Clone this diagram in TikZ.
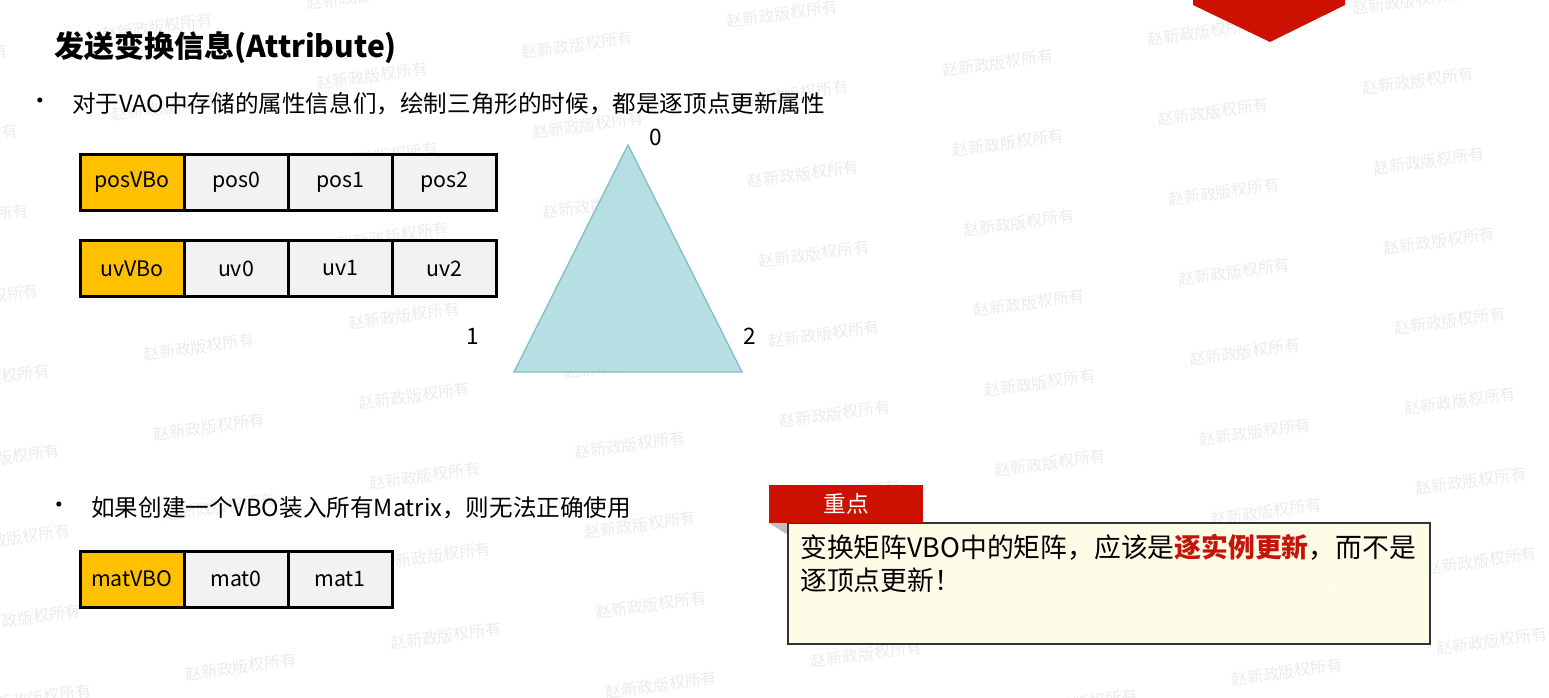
\documentclass[tikz,border=0pt]{standalone}
\usepackage{fontspec}
\setmainfont{Noto Sans CJK SC}
\usetikzlibrary{positioning}

\definecolor{vboyellow}{HTML}{FFC000}
\definecolor{cellgray}{HTML}{F2F2F2}
\definecolor{trifill}{HTML}{B7DEE3}
\definecolor{triline}{HTML}{7FBFC6}
\definecolor{keyred}{HTML}{CC1100}
\definecolor{emphred}{HTML}{C5140A}
\definecolor{notefill}{HTML}{FEFCE5}

\begin{document}
\begin{tikzpicture}[x=0.75pt, y=-0.75pt]
	\tikzstyle{cell} = [ draw, rectangle, line width=2.25pt, minimum width=78pt, minimum height=42pt, node distance=78pt, fill=cellgray, font={\fontsize{16}{18}\selectfont} ];
	\tikzstyle{head} = [ cell, fill=vboyellow ];
	\tikzstyle{title} = [ inner sep=0pt, font={\fontsize{22.5}{26}\selectfont\bfseries} ];
	\tikzstyle{bullet} = [ inner sep=0pt, font={\fontsize{17.7}{22}\selectfont} ];
	\tikzstyle{num} = [ inner sep=0pt, font={\fontsize{17}{20}\selectfont} ];
	\tikzstyle{tri} = [ fill=trifill, draw=triline, line width=1pt ];
	\tikzstyle{tab} = [ fill=keyred, text=white, minimum width=115.5pt, minimum height=28.5pt, inner sep=0pt, font={\fontsize{17}{20}\selectfont} ];
	\tikzstyle{notebox} = [ fill=notefill, fill opacity=0.92, draw=black!80, draw opacity=1, line width=1.1pt ];
	\tikzstyle{msg} = [ inner sep=0pt, align=left, font={\fontsize{20.1}{24.75}\selectfont} ];
	\tikzstyle{stamp} = [ rotate=8, text=black!8, font={\fontsize{12}{14}\selectfont} ];

	\useasboundingbox (0,0) rectangle (1549,697);

	\foreach \i in {-5,...,4} {
		\foreach \j in {-7,...,5} {
			\pgfmathsetmacro \wx {835+205*\i+10.5*\j}
			\pgfmathsetmacro \wy {414-31*\i+80*\j}
			\node[stamp] (wm\i\j) at (\wx,\wy) {赵新政版权所有};
		}
	}

	\fill[keyred] (1193,-2) -- (1345,-2) -- (1345,5) -- (1270,42) -- (1193,5) -- cycle;

	\node[title, anchor=west] (title) at (54,48) {发送变换信息(Attribute)};
	\node[bullet] (b1) at (40,104) {•};
	\node[bullet, anchor=west] (t1) at (72,104) {对于VAO中存储的属性信息们，绘制三角形的时候，都是逐顶点更新属性};
	\node[bullet] (b2) at (59,508) {•};
	\node[bullet, anchor=west] (t2) at (91,508) {如果创建一个VBO装入所有Matrix，则无法正确使用};

	\foreach \row/\ypos/\seq in {p/182.5/{posVBo,pos0,pos1,pos2}, u/268.5/{uvVBo,uv0,uv1,uv2}, m/579/{matVBO,mat0,mat1}} {
		\foreach \x [count=\xi] in \seq {
			\ifnum 1 < \xi
				\pgfmathparse{int(\xi-1)}
				\let \li \pgfmathresult
				\node[cell, right of=\row\li] (\row\xi) {\x};
			\else
				\node[head] (\row\xi) at (132,\ypos) {\x};
			\fi
		}
	}

	\coordinate (v0) at (628,145);
	\coordinate (v1) at (514,372);
	\coordinate (v2) at (742,372);
	\filldraw[tri] (v0) -- (v1) -- (v2) -- cycle;
	\node[num] (l0) at (656,137) {0};
	\node[num] (l1) at (473,336) {1};
	\node[num] (l2) at (750,336) {2};

	\fill[black!25] (769,523) -- (788,523) -- (788,535) -- cycle;
	\filldraw[notebox] (788,523) rectangle (1430,644);
	\node[tab] (tab) at (846,504) {重点};
	\node[msg, anchor=north west] (msg) at (800,534) {变换矩阵VBO中的矩阵，应该是\textcolor{emphred}{\bfseries 逐实例更新}，而不是\\逐顶点更新！};

\end{tikzpicture}
\end{document}
